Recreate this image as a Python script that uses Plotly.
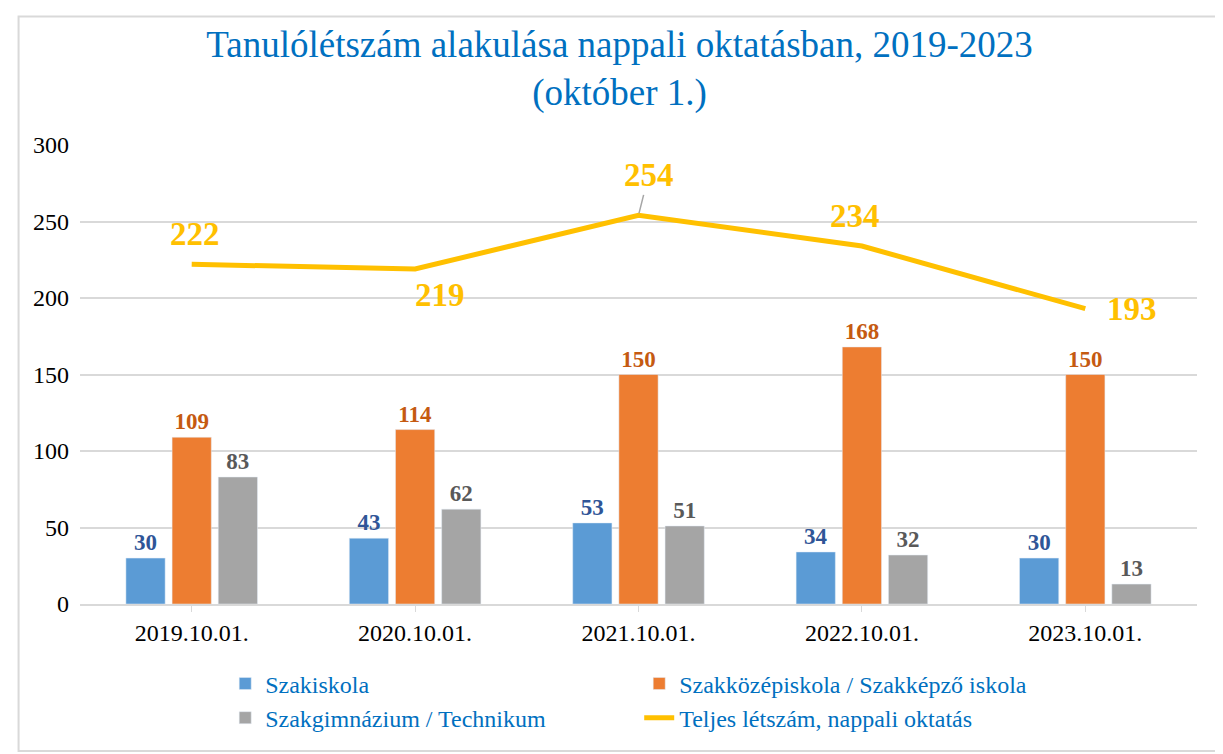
import plotly.graph_objects as go

# Adatok
datumok = ["2019.10.01.", "2020.10.01.", "2021.10.01.", "2022.10.01.", "2023.10.01."]
szakiskola = [30, 43, 53, 34, 30]
szakkozep = [109, 114, 150, 168, 150]
szakgimn = [83, 62, 51, 32, 13]
teljes = [222, 219, 254, 234, 193]

# label offsets (px) for the total line labels
teljes_shift = [(3, 30), (25, -26), (10, -40), (-7, 30), (47, 0)]

FONT = "Liberation Serif, Times New Roman, serif"

fig = go.Figure()
fig.add_trace(go.Bar(x=datumok, y=szakiskola, name="Szakiskola",
                     marker_color="#5B9BD5", textposition="outside",
                     textfont=dict(color="#2F5597", size=23, family=FONT), cliponaxis=False))
fig.add_trace(go.Bar(x=datumok, y=szakkozep, name="Szakközépiskola / Szakképző iskola",
                     marker_color="#ED7D31", textposition="outside",
                     textfont=dict(color="#C55A11", size=23, family=FONT), cliponaxis=False))
fig.add_trace(go.Bar(x=datumok, y=szakgimn, name="Szakgimnázium / Technikum",
                     marker_color="#A5A5A5", textposition="outside",
                     textfont=dict(color="#595959", size=23, family=FONT), cliponaxis=False))
fig.add_trace(go.Scatter(x=datumok, y=teljes, name="Teljes létszám, nappali oktatás",
                         mode="lines", line=dict(color="#FFC000", width=5)))

fig.update_traces(texttemplate="<b>%{y}</b>", selector=dict(type="bar"))

# line labels
for d, v, (dx, dy) in zip(datumok, teljes, teljes_shift):
    if d == "2021.10.01.":
        fig.add_annotation(x=d, y=v, text=f"<b>{v}</b>", showarrow=True, arrowhead=0,
                           arrowcolor="#A6A6A6", arrowwidth=1.5, ax=dx, ay=dy, standoff=2,
                           font=dict(color="#FFC000", size=33, family=FONT))
    else:
        fig.add_annotation(x=d, y=v, text=f"<b>{v}</b>", showarrow=False,
                           xshift=dx, yshift=dy,
                           font=dict(color="#FFC000", size=33, family=FONT))

fig.update_layout(
    width=1223, height=754,
    paper_bgcolor="white", plot_bgcolor="white",
    font=dict(family=FONT, size=24, color="black"),
    title=dict(text="Tanulólétszám alakulása nappali oktatásban, 2019-2023<br>(október 1.)",
               x=0.5, xanchor="center", y=0.935, yanchor="top",
               font=dict(size=37, color="#0070C0", family=FONT)),
    margin=dict(l=72, r=34, t=137, b=158),
    barmode="group", bargap=0.38, bargroupgap=0.15,
    legend=dict(orientation="h", x=0.13, xanchor="left", y=-0.125, yanchor="top",
                entrywidth=369, entrywidthmode="pixels", traceorder="normal",
                font=dict(size=24, color="#0070C0", family=FONT)),
    yaxis=dict(range=[0, 300], dtick=50, showgrid=True, gridcolor="#D9D9D9", gridwidth=2,
               zeroline=False, ticks="", tickfont=dict(size=24), ticklabelstandoff=10,
               fixedrange=True),
    xaxis=dict(showline=True, linecolor="#D9D9D9", linewidth=2, ticks="outside",
               tickcolor="#D9D9D9", ticklen=6, tickfont=dict(size=24)),
    shapes=[dict(type="rect", xref="paper", yref="paper", x0=-0.055, x1=1.018, y0=-0.32, y1=1.28,
                 line=dict(color="#D9D9D9", width=2), fillcolor="rgba(0,0,0,0)", layer="below")],
)

fig.write_html("out.html")
